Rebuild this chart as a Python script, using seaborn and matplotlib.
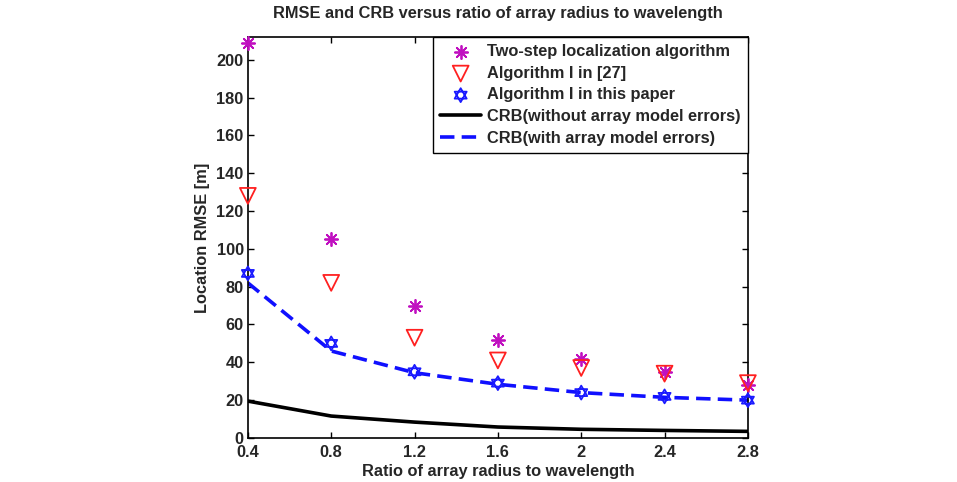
import numpy as np
import pandas as pd
import matplotlib
matplotlib.use("Agg")
import matplotlib.pyplot as plt
from matplotlib.path import Path
import seaborn as sns

# values
ratio = [0.4, 0.8, 1.2, 1.6, 2.0, 2.4, 2.8]
two_step = [209, 105, 70, 52, 42, 35, 28]
alg_ref27 = [128, 82, 53, 41, 37, 34, 29]
alg_paper = [87, 50, 35, 29, 24, 22, 20]
crb_no_err = [19.5, 11.6, 8.4, 5.8, 4.6, 4.0, 3.5]
crb_err = [82, 46, 34.5, 28.4, 24, 21.5, 20]
xtick_labels = ["0.4", "0.8", "1.2", "1.6", "2", "2.4", "2.8"]
ytick_vals = list(range(0, 201, 20))

df = pd.DataFrame({"ratio": ratio, "two_step": two_step, "ref27": alg_ref27,
                   "paper": alg_paper, "crb0": crb_no_err, "crb1": crb_err})

sns.set_style("ticks")
plt.rcParams["font.family"] = ["Liberation Sans", "DejaVu Sans"]
plt.rcParams["font.weight"] = "bold"
plt.rcParams["axes.labelweight"] = "bold"
plt.rcParams["axes.titleweight"] = "bold"

FS = 11.8

# MATLAB-like hexagram marker
t_up = np.deg2rad([90, 210, 330])
t_dn = np.deg2rad([270, 30, 150])
verts = [(np.cos(a), np.sin(a)) for a in t_up] + [(0, 0)] + \
        [(np.cos(a), np.sin(a)) for a in t_dn] + [(0, 0)]
codes = [Path.MOVETO, Path.LINETO, Path.LINETO, Path.CLOSEPOLY] * 2
hexagram = Path(verts, codes)

fig = plt.figure(figsize=(9.57, 4.82), dpi=100)
ax = fig.add_axes([0.259, 0.0913, 0.5225, 0.832])

sns.lineplot(data=df, x="ratio", y="crb0", color="black", linewidth=2.6,
             ax=ax, label="CRB(without array model errors)", legend=False)
sns.lineplot(data=df, x="ratio", y="crb1", color="#1010ff", linewidth=2.6,
             ax=ax, label="CRB(with array model errors)", legend=False)
ax.lines[1].set_dashes([4, 2])

sns.scatterplot(data=df, x="ratio", y="two_step", marker=(8, 2, 0), s=90,
                color="#c010c0", edgecolor="#c010c0", linewidth=1.3,
                ax=ax, label="Two-step localization algorithm", clip_on=False, zorder=5)
sns.scatterplot(data=df, x="ratio", y="ref27", marker="v", s=130,
                facecolor="none", edgecolor="#ff2020", linewidth=1.3,
                ax=ax, label="Algorithm I in [27]", clip_on=False, zorder=5)
sns.scatterplot(data=df, x="ratio", y="paper", marker=hexagram, s=100,
                facecolor="none", edgecolor="#1a1aff", linewidth=1.3,
                ax=ax, label="Algorithm I in this paper", clip_on=False, zorder=5)

ax.set_xlim(0.4, 2.8)
ax.set_ylim(0, 212)
ax.set_xticks(ratio)
ax.set_xticklabels(xtick_labels)
ax.set_yticks(ytick_vals)
ax.tick_params(direction="in", top=True, right=True, labelsize=FS,
               length=4, width=1, color="black")
ax.tick_params(axis="x", pad=5)
ax.tick_params(axis="y", pad=3)
for s in ax.spines.values():
    s.set_visible(True)
    s.set_linewidth(1.2)
    s.set_color("black")

ax.set_title("RMSE and CRB versus ratio of array radius to wavelength", fontsize=FS, pad=14)
ax.set_xlabel("Ratio of array radius to wavelength", fontsize=FS, labelpad=3)
ax.set_ylabel("Location RMSE [m]", fontsize=FS, labelpad=5)

handles, labels = ax.get_legend_handles_labels()
order = ["Two-step localization algorithm", "Algorithm I in [27]", "Algorithm I in this paper",
         "CRB(without array model errors)", "CRB(with array model errors)"]
hmap = dict(zip(labels, handles))
leg = ax.legend([hmap[k] for k in order], order, loc="upper right",
                bbox_to_anchor=(1.0, 1.0), borderaxespad=0, fontsize=FS,
                frameon=True, fancybox=False, edgecolor="black", framealpha=1,
                handlelength=2.5, handletextpad=0.35, labelspacing=0.4,
                borderpad=0.45)
leg.get_frame().set_linewidth(1.0)

fig.savefig("out.png", dpi=100)
